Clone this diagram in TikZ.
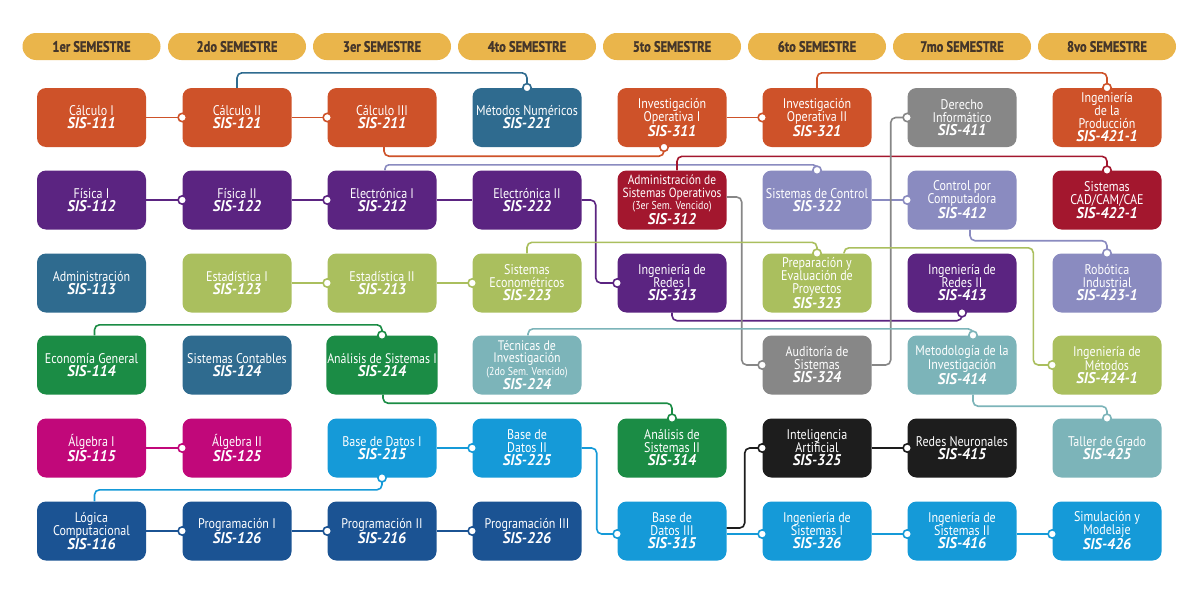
\documentclass[tikz,border=0pt]{standalone}
\usepackage{fontspec}
\setmainfont{PT Sans}[FakeStretch=0.86]
\newfontfamily\codefont{PT Sans}[FakeStretch=0.95]
\newfontfamily\hdfont{PT Sans}[FakeStretch=0.83, FakeBold=1]
\usetikzlibrary{arrows.meta}
\definecolor{gold}{HTML}{EAB54B}
\definecolor{hdtext}{HTML}{45362A}
\definecolor{corange}{HTML}{CE5229}
\definecolor{csteel}{HTML}{2F6B8F}
\definecolor{cpurple}{HTML}{5B2481}
\definecolor{clgreen}{HTML}{AABF5E}
\definecolor{cgreen}{HTML}{1B8C45}
\definecolor{cmagenta}{HTML}{C1087A}
\definecolor{clblue}{HTML}{159AD8}
\definecolor{cdblue}{HTML}{1B5393}
\definecolor{ccrimson}{HTML}{A3172E}
\definecolor{clav}{HTML}{8A8BC0}
\definecolor{cgray}{HTML}{878787}
\definecolor{cteal}{HTML}{7CB4B9}
\definecolor{cblack}{HTML}{1D1D1D}
\newcommand{\mycode}[1]{{\codefont\bfseries\itshape\fontsize{15.5}{13}\selectfont #1}}
\newcommand{\mysmall}[1]{{\fontsize{11.5}{13}\selectfont #1}}
\begin{document}
\begin{tikzpicture}[x=1pt,y=-1pt,
  sem/.style={fill=gold, rounded corners=13.5pt, minimum width=138pt, minimum height=27pt, inner sep=0pt, text=hdtext, font=\hdfont\bfseries\fontsize{15}{15}\selectfont},
  box/.style={rounded corners=9pt, minimum width=109pt, minimum height=59pt, inner sep=1pt, align=center, text=white, font=\fontsize{14}{13}\selectfont},
  conn/.style={line width=1.6pt, rounded corners=5pt},
  dot/.style={-{Circle[length=10pt,width=10pt,fill=white]}, shorten >=-5pt}
]
\useasboundingbox[fill=white] (0,0) rectangle (1200,597);
% headers
\node[sem] (h1) at (91.5,46.5) {1er SEMESTRE};
\node[sem] (h2) at (237,46.5) {2do SEMESTRE};
\node[sem] (h3) at (382,46.5) {3er SEMESTRE};
\node[sem] (h4) at (527,46.5) {4to SEMESTRE};
\node[sem] (h5) at (672,46.5) {5to SEMESTRE};
\node[sem] (h6) at (817,46.5) {6to SEMESTRE};
\node[sem] (h7) at (962,46.5) {7mo SEMESTRE};
\node[sem] (h8) at (1107,46.5) {8vo SEMESTRE};
% row 1
\node[box, fill=corange] (s111) at (91.5,117.5) {Cálculo I\\\mycode{SIS-111}};
\node[box, fill=corange] (s121) at (237,117.5) {Cálculo II\\\mycode{SIS-121}};
\node[box, fill=corange] (s211) at (382,117.5) {Cálculo III\\\mycode{SIS-211}};
\node[box, fill=csteel] (s221) at (527,117.5) {Métodos Numéricos\\\mycode{SIS-221}};
\node[box, fill=corange] (s311) at (672,117.5) {Investigación\\Operativa I\\\mycode{SIS-311}};
\node[box, fill=corange] (s321) at (817,117.5) {Investigación\\Operativa II\\\mycode{SIS-321}};
\node[box, fill=cgray] (s411) at (962,117.5) {Derecho\\Informático\\\mycode{SIS-411}};
\node[box, fill=corange] (s4211) at (1107,117.5) {Ingeniería\\de la\\Producción\\\mycode{SIS-421-1}};
% row 2
\node[box, fill=cpurple] (s112) at (91.5,200) {Física I\\\mycode{SIS-112}};
\node[box, fill=cpurple] (s122) at (237,200) {Física II\\\mycode{SIS-122}};
\node[box, fill=cpurple] (s212) at (382,200) {Electrónica I\\\mycode{SIS-212}};
\node[box, fill=cpurple] (s222) at (527,200) {Electrónica II\\\mycode{SIS-222}};
\node[box, fill=ccrimson, font=\fontsize{13.3}{12.5}\selectfont] (s312) at (672,200) {Administración de\\Sistemas Operativos\\\mysmall{(3er Sem. Vencido)}\\\mycode{SIS-312}};
\node[box, fill=clav] (s322) at (817,200) {Sistemas de Control\\\mycode{SIS-322}};
\node[box, fill=clav] (s412) at (962,200) {Control por\\Computadora\\\mycode{SIS-412}};
\node[box, fill=ccrimson] (s4221) at (1107,200) {Sistemas\\CAD/CAM/CAE\\\mycode{SIS-422-1}};
% row 3
\node[box, fill=csteel] (s113) at (91.5,283) {Administración\\\mycode{SIS-113}};
\node[box, fill=clgreen] (s123) at (237,283) {Estadística I\\\mycode{SIS-123}};
\node[box, fill=clgreen] (s213) at (382,283) {Estadística II\\\mycode{SIS-213}};
\node[box, fill=clgreen] (s223) at (527,283) {Sistemas\\Econométricos\\\mycode{SIS-223}};
\node[box, fill=cpurple] (s313) at (672,283) {Ingeniería de\\Redes I\\\mycode{SIS-313}};
\node[box, fill=clgreen] (s323) at (817,283) {Preparación y\\Evaluación de\\Proyectos\\\mycode{SIS-323}};
\node[box, fill=cpurple] (s413) at (962,283) {Ingeniería de\\Redes II\\\mycode{SIS-413}};
\node[box, fill=clav] (s4231) at (1107,283) {Robótica\\Industrial\\\mycode{SIS-423-1}};
% row 4
\node[box, fill=cgreen] (s114) at (91.5,365) {Economía General\\\mycode{SIS-114}};
\node[box, fill=csteel] (s124) at (237,365) {Sistemas Contables\\\mycode{SIS-124}};
\node[box, fill=cgreen, font=\fontsize{13.8}{13}\selectfont] (s214) at (382,365) {Análisis de Sistemas I\\\mycode{SIS-214}};
\node[box, fill=cteal, font=\fontsize{13.8}{12.5}\selectfont] (s224) at (527,365) {Técnicas de\\Investigación\\\mysmall{(2do Sem. Vencido)}\\\mycode{SIS-224}};
\node[box, fill=cgray] (s324) at (817,365) {Auditoría de\\Sistemas\\\mycode{SIS-324}};
\node[box, fill=cteal] (s414) at (962,365) {Metodología de la\\Investigación\\\mycode{SIS-414}};
\node[box, fill=clgreen] (s4241) at (1107,365) {Ingeniería de\\Métodos\\\mycode{SIS-424-1}};
% row 5
\node[box, fill=cmagenta] (s115) at (91.5,448) {Álgebra I\\\mycode{SIS-115}};
\node[box, fill=cmagenta] (s125) at (237,448) {Álgebra II\\\mycode{SIS-125}};
\node[box, fill=clblue] (s215) at (382,448) {Base de Datos I\\\mycode{SIS-215}};
\node[box, fill=clblue] (s225) at (527,448) {Base de\\Datos II\\\mycode{SIS-225}};
\node[box, fill=cgreen] (s314) at (672,448) {Análisis de\\Sistemas II\\\mycode{SIS-314}};
\node[box, fill=cblack] (s325) at (817,448) {Inteligencia\\Artificial\\\mycode{SIS-325}};
\node[box, fill=cblack] (s415) at (962,448) {Redes Neuronales\\\mycode{SIS-415}};
\node[box, fill=cteal] (s425) at (1107,448) {Taller de Grado\\\mycode{SIS-425}};
% row 6
\node[box, fill=cdblue] (s116) at (91.5,531) {Lógica\\Computacional\\\mycode{SIS-116}};
\node[box, fill=cdblue] (s126) at (237,531) {Programación I\\\mycode{SIS-126}};
\node[box, fill=cdblue] (s216) at (382,531) {Programación II\\\mycode{SIS-216}};
\node[box, fill=cdblue] (s226) at (527,531) {Programación III\\\mycode{SIS-226}};
\node[box, fill=clblue] (s315) at (672,531) {Base de\\Datos III\\\mycode{SIS-315}};
\node[box, fill=clblue] (s326) at (817,531) {Ingeniería de\\Sistemas I\\\mycode{SIS-326}};
\node[box, fill=clblue] (s416) at (962,531) {Ingeniería de\\Sistemas II\\\mycode{SIS-416}};
\node[box, fill=clblue] (s426) at (1107,531) {Simulación y\\Modelaje\\\mycode{SIS-426}};
% connectors: orange
\draw[conn, corange, dot] (s111.east) -- (s121.west);
\draw[conn, corange, dot] (s121.east) -- (s211.west);
\draw[conn, corange, dot] ([xshift=2pt]s211.south) -- ++(0,9) -| ([xshift=-8pt]s311.south);
\draw[conn, corange, dot] (s311.east) -- (s321.west);
\draw[conn, corange, dot] (s321.north) -- ++(0,-15) -| (s4211.north);
% steel
\draw[conn, csteel, dot] (s121.north) -- ++(0,-15) -| (s221.north);
% purple
\draw[conn, cpurple, dot] (s112.east) -- (s122.west);
\draw[conn, cpurple, dot] (s122.east) -- (s212.west);
\draw[conn, cpurple] (s212.east) -- (s222.west);
\draw[conn, cpurple, dot] (s222.east) -- ++(14,0) |- (s313.west);
\draw[conn, cpurple, dot] (s313.south) -- ++(0,8) -| (s413.south);
% lavender
\draw[conn, clav, dot, rounded corners=4pt] ([xshift=3pt]s212.north) -- ++(0,-5.5) -| (s322.north);
\draw[conn, clav, dot] (s322.east) -- (s412.west);
\draw[conn, clav, dot] ([xshift=8pt]s412.south) -- ++(0,11) -| (s4231.north);
% crimson
\draw[conn, ccrimson, dot] ([xshift=5pt]s312.north) -- ++(0,-14) -| (s4221.north);
% gray
\draw[conn, cgray, dot] ([yshift=3pt]s312.east) -- ++(15,0) |- (s324.west);
\draw[conn, cgray, dot] (s324.east) -- ++(19,0) |- (s411.west);
% light green
\draw[conn, clgreen, dot] (s123.east) -- (s213.west);
\draw[conn, clgreen, dot] (s213.east) -- (s223.west);
\draw[conn, clgreen, dot] (s223.north) -- ++(0,-11) -| (s323.north);
\draw[conn, clgreen, dot] ([xshift=27pt]s323.north) -- ++(0,-5.5) -| ([xshift=-19pt]s4241.west) -- (s4241.west);
% teal
\draw[conn, cteal, dot] ([xshift=1pt]s224.north) -- ++(0,-6.5) -| ([xshift=11pt]s414.north);
\draw[conn, cteal, dot] ([xshift=11pt]s414.south) -- ++(0,11.5) -| (s425.north);
% green
\draw[conn, cgreen, dot] ([xshift=3pt]s114.north) -- ++(0,-10.5) -| (s214.north);
\draw[conn, cgreen, dot] ([xshift=1pt]s214.south) -- ++(0,8.5) -| (s314.north);
% magenta
\draw[conn, cmagenta, dot] (s115.east) -- (s125.west);
% light blue
\draw[conn, clblue, dot] (s215.east) -- (s225.west);
\draw[conn, clblue, dot] (s225.east) -- ++(15,0) |- ([yshift=-3pt]s315.west);
\draw[conn, clblue, dot] ([xshift=3pt]s116.north) -- ++(0,-11.5) -| (s215.south);
\draw[conn, clblue, dot] ([yshift=-3pt]s315.east) -- ([yshift=-3pt]s326.west);
\draw[conn, clblue, dot] ([yshift=-3pt]s326.east) -- ([yshift=-3pt]s416.west);
\draw[conn, clblue, dot] ([yshift=-3pt]s416.east) -- ([yshift=-3pt]s426.west);
% dark blue
\draw[conn, cdblue, dot] (s116.east) -- (s126.west);
\draw[conn, cdblue, dot] (s126.east) -- (s216.west);
\draw[conn, cdblue, dot] (s216.east) -- (s226.west);
% black
\draw[conn, cblack, dot] ([yshift=3pt]s315.east) -- ++(18,0) |- (s325.west);
\draw[conn, cblack, dot] (s325.east) -- (s415.west);
\end{tikzpicture}
\end{document}
